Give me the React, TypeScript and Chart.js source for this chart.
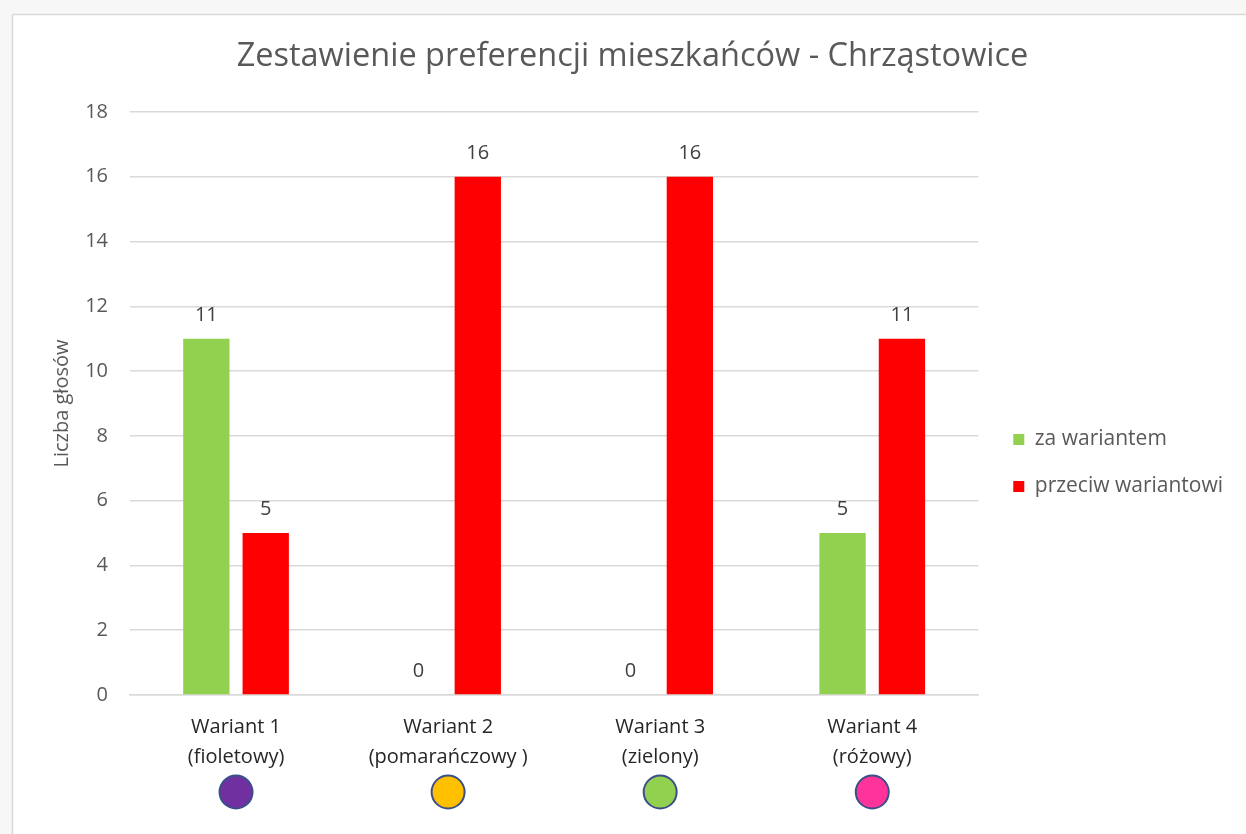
import React, { useEffect, useRef } from "react";
import { Chart, registerables } from "chart.js";

Chart.register(...registerables);

const categories: string[][] = [
  ["Wariant 1", "(fioletowy)"],
  ["Wariant 2", "(pomarańczowy )"],
  ["Wariant 3", "(zielony)"],
  ["Wariant 4", "(różowy)"],
];
const zaWariantem: number[] = [11, 0, 0, 5];
const przeciwWariantowi: number[] = [5, 16, 16, 11];
const seriesNames: string[] = ["za wariantem", "przeciw wariantowi"];
const circleColors: string[] = ["#7030A0", "#FFC000", "#92D050", "#FF3399"];
const yTitle = "Liczba głosów";
const chartTitle = "Zestawienie preferencji mieszkańców - Chrząstowice";

const FONT = "'Open Sans', sans-serif";

const framePlugin = {
  id: "frame",
  beforeDraw(chart: any) {
    const ctx = chart.ctx;
    ctx.save();
    ctx.fillStyle = "#ffffff";
    ctx.fillRect(0, 0, chart.width, chart.height);
    ctx.fillStyle = "#f7f7f7";
    ctx.fillRect(0, 0, chart.width, 14);
    ctx.fillRect(0, 0, 12, chart.height);
    ctx.strokeStyle = "#d9d9d9";
    ctx.lineWidth = 1.5;
    ctx.beginPath();
    ctx.moveTo(12.5, chart.height);
    ctx.lineTo(12.5, 14.5);
    ctx.lineTo(chart.width, 14.5);
    ctx.stroke();
    ctx.restore();
  },
};

const dataLabelPlugin = {
  id: "dataLabels",
  afterDatasetsDraw(chart: any) {
    const ctx = chart.ctx;
    ctx.save();
    ctx.font = `20px ${FONT}`;
    ctx.fillStyle = "#404040";
    ctx.textAlign = "center";
    ctx.textBaseline = "alphabetic";
    chart.data.datasets.forEach((ds: any, di: number) => {
      const meta = chart.getDatasetMeta(di);
      meta.data.forEach((el: any, i: number) => {
        ctx.fillText(String(ds.data[i]), el.x, el.y - 18);
      });
    });
    ctx.restore();
  },
};

const circlePlugin = {
  id: "circles",
  afterDraw(chart: any) {
    const ctx = chart.ctx;
    const xs = chart.scales.x;
    ctx.save();
    circleColors.forEach((c, i) => {
      const x = xs.getPixelForValue(i);
      ctx.beginPath();
      ctx.arc(x, 792, 16.5, 0, Math.PI * 2);
      ctx.fillStyle = c;
      ctx.fill();
      ctx.lineWidth = 2;
      ctx.strokeStyle = "#3A4F8A";
      ctx.stroke();
    });
    ctx.restore();
  },
};

export default function App() {
  const ref = useRef<HTMLCanvasElement | null>(null);

  useEffect(() => {
    document.body.style.margin = "0";
    const canvas = ref.current!;
    const chart = new Chart(canvas, {
      type: "bar",
      data: {
        labels: categories,
        datasets: [
          {
            label: seriesNames[0],
            data: zaWariantem,
            backgroundColor: "#92D050",
            barPercentage: 0.78,
            categoryPercentage: 0.56,
          },
          {
            label: seriesNames[1],
            data: przeciwWariantowi,
            backgroundColor: "#FF0000",
            barPercentage: 0.78,
            categoryPercentage: 0.56,
          },
        ],
      },
      options: {
        responsive: false,
        animation: false,
        devicePixelRatio: 1,
        layout: { padding: { left: 32, right: 13, top: 0, bottom: 0 } },
        plugins: {
          title: {
            display: true,
            text: chartTitle,
            color: "#595959",
            font: { family: FONT, size: 32.5, weight: "normal" },
            padding: { top: 37, bottom: 36 },
          },
          legend: {
            position: "right",
            maxWidth: 400,
            title: {
              display: true,
              text: " ",
              font: { family: FONT, size: 20 },
              padding: { top: 0, bottom: 68 },
            },
            labels: {
              boxWidth: 11,
              boxHeight: 11,
              padding: 26,
              color: "#595959",
              font: { family: FONT, size: 21 },
            },
          },
          tooltip: { enabled: false },
        },
        scales: {
          x: {
            grid: { display: false },
            border: { color: "#d9d9d9", width: 1.5 },
            ticks: {
              color: "#262626",
              font: { family: FONT, size: 20, lineHeight: 1.5 },
              padding: 9,
              maxRotation: 0,
              autoSkip: false,
            },
            afterFit: (s: any) => {
              s.height = 139;
            },
          },
          y: {
            min: 0,
            max: 18,
            ticks: {
              stepSize: 2,
              color: "#595959",
              font: { family: FONT, size: 20 },
              padding: 22,
            },
            grid: { color: "#d9d9d9", drawTicks: false, lineWidth: 1.5 },
            border: { display: false },
            title: {
              display: true,
              text: yTitle,
              color: "#595959",
              font: { family: FONT, size: 20 },
              padding: { top: 18, bottom: 0 },
            },
            afterFit: (s: any) => {
              s.width = 98;
            },
          },
          pad: {
            type: "linear",
            position: "right",
            display: true,
            grid: { display: false },
            ticks: { display: false },
            border: { display: false },
            afterFit: (s: any) => {
              s.width = 9;
            },
          },
        },
      } as any,
      plugins: [framePlugin, dataLabelPlugin, circlePlugin],
    });
    return () => chart.destroy();
  }, []);

  return (
    <canvas
      ref={ref}
      width={1246}
      height={834}
      style={{ display: "block", width: "1246px", height: "834px" }}
    />
  );
}
